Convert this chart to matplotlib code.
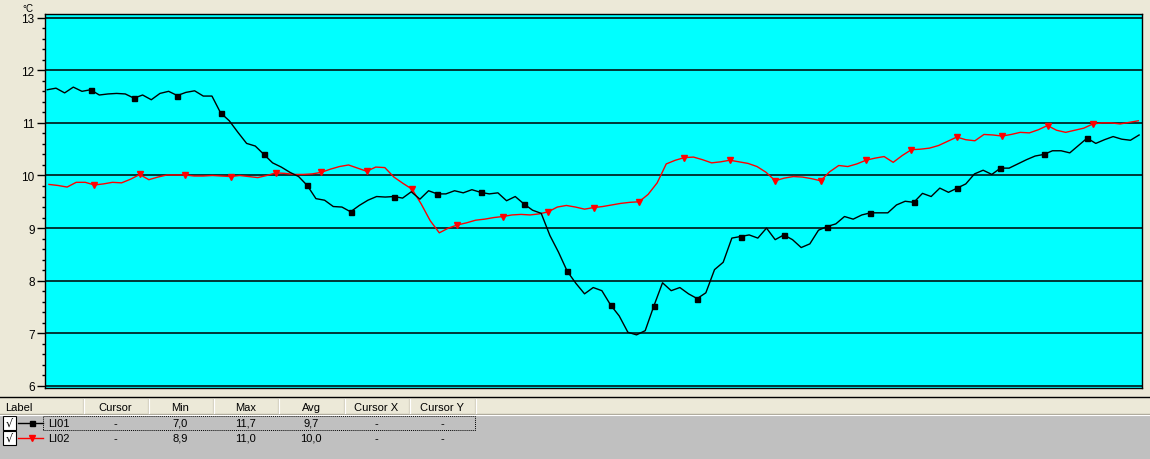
import matplotlib
matplotlib.use("Agg")
import numpy as np
import matplotlib.pyplot as plt
from matplotlib.patches import Rectangle
from matplotlib.lines import Line2D
from matplotlib.ticker import MultipleLocator

# ------------------------------------------------------------
# data (temperatures in degC)
# ------------------------------------------------------------
li01_step_min = 21   # sample interval LI01
li02_step_min = 22   # sample interval LI02
li02_offset_min = 4

li01 = [11.63, 11.66, 11.57, 11.68, 11.60, 11.63, 11.53, 11.55, 11.56, 11.55,
        11.47, 11.53, 11.44, 11.56, 11.60, 11.52, 11.58, 11.61, 11.51, 11.51,
        11.19, 11.04, 10.82, 10.61, 10.56, 10.40, 10.24, 10.16, 10.06, 9.98,
        9.81, 9.56, 9.53, 9.41, 9.40, 9.31, 9.43, 9.53, 9.60, 9.59,
        9.60, 9.57, 9.69, 9.55, 9.71, 9.65, 9.65, 9.71, 9.67, 9.73,
        9.68, 9.65, 9.67, 9.52, 9.60, 9.46, 9.34, 9.28, 8.86, 8.54,
        8.18, 7.95, 7.75, 7.87, 7.81, 7.54, 7.33, 7.02, 6.97, 7.05,
        7.52, 7.96, 7.81, 7.87, 7.75, 7.66, 7.77, 8.21, 8.35, 8.81,
        8.84, 8.87, 8.81, 9.00, 8.78, 8.87, 8.78, 8.63, 8.70, 8.96,
        9.03, 9.08, 9.22, 9.17, 9.25, 9.29, 9.29, 9.29, 9.44, 9.51,
        9.49, 9.66, 9.60, 9.76, 9.68, 9.76, 9.84, 10.03, 10.10, 10.02,
        10.14, 10.14, 10.22, 10.30, 10.37, 10.40, 10.47, 10.47, 10.43, 10.57,
        10.71, 10.61, 10.68, 10.74, 10.69, 10.67, 10.77]

li02 = [9.83, 9.81, 9.78, 9.87, 9.87, 9.82, 9.84, 9.87, 9.86, 9.93,
        10.02, 9.92, 9.97, 10.01, 10.01, 10.01, 9.99, 9.99, 10.00, 9.99,
        9.98, 10.00, 9.98, 9.96, 10.00, 10.05, 10.04, 10.02, 10.02, 10.03,
        10.06, 10.12, 10.17, 10.20, 10.14, 10.08, 10.16, 10.15, 9.97, 9.85,
        9.74, 9.46, 9.14, 8.91, 9.00, 9.06, 9.10, 9.15, 9.17, 9.20,
        9.22, 9.25, 9.26, 9.25, 9.27, 9.31, 9.40, 9.43, 9.40, 9.36,
        9.39, 9.41, 9.44, 9.47, 9.49, 9.50, 9.64, 9.86, 10.22, 10.29,
        10.34, 10.35, 10.30, 10.24, 10.26, 10.29, 10.26, 10.23, 10.17, 10.06,
        9.90, 9.95, 9.98, 9.97, 9.94, 9.90, 10.07, 10.19, 10.17, 10.22,
        10.29, 10.33, 10.36, 10.25, 10.38, 10.49, 10.50, 10.52, 10.57, 10.65,
        10.73, 10.68, 10.66, 10.78, 10.77, 10.75, 10.78, 10.82, 10.81, 10.87,
        10.95, 10.86, 10.82, 10.86, 10.90, 10.98, 11.00, 11.00, 10.98, 11.01,
        11.04]

series_labels = ["LI01", "LI02"]
series_colors = ["black", "red"]
series_markers = ["s", "v"]
table_columns = ["Label", "Cursor", "Min", "Max", "Avg", "Cursor X", "Cursor Y"]
table_min = [7.0, 8.9]
table_max = [11.7, 11.0]
table_avg = [9.7, 10.0]

W, H = 1150, 460
BG = "#ECE9D8"
FONT = "Liberation Sans"


def fx(px):
    return px / W


def fy(py):
    return 1 - py / H


fig = plt.figure(figsize=(W / 100, H / 100), dpi=100, facecolor=BG)

# ------------------------------------------------------------
# chart area
# ------------------------------------------------------------
ax = fig.add_axes([fx(45), fy(389), fx(1142 - 45), (389 - 15) / H])
ax.set_facecolor("#00FFFF")
for s in ax.spines.values():
    s.set_color("black")
    s.set_linewidth(1.0)

for v in range(6, 14):
    ax.axhline(v, color="black", lw=1.1, zorder=1)

t01 = np.arange(len(li01)) * li01_step_min
t02 = np.arange(len(li02)) * li02_step_min + li02_offset_min

# markers every 5th sample, none on the first / last sample
ax.plot(t02, li02, color="red", lw=1.0, marker="v", ms=4.5,
        markevery=list(range(5, len(li02) - 2, 5)), zorder=3)
ax.plot(t01, li01, color="black", lw=1.0, marker="s", ms=3.6,
        markevery=list(range(5, len(li01) - 2, 5)), zorder=4)

ax.set_xlim(-5.6, 2653)
ax.set_ylim(5.96, 13.07)
ax.set_xticks([])
ax.set_yticks(range(6, 14))
ax.yaxis.set_minor_locator(MultipleLocator(0.2))
ax.tick_params(axis="y", which="major", length=6, width=1, pad=1.5,
               labelsize=8.5, direction="out")
ax.tick_params(axis="y", which="minor", length=2.2, width=1, direction="out")
for lab in ax.get_yticklabels():
    lab.set_fontfamily(FONT)

fig.text(fx(22), fy(9), "°C", fontsize=7, family=FONT, va="center", ha="left")

# ------------------------------------------------------------
# legend / statistics table below the chart
# ------------------------------------------------------------
fig.add_artist(Line2D([0, 1], [fy(398), fy(398)], color="black", lw=1.0,
                      transform=fig.transFigure))
fig.add_artist(Rectangle((0, 0), 1, fy(416), transform=fig.transFigure,
                         facecolor="#C0C0C0", edgecolor="none"))
fig.add_artist(Line2D([0, 1], [fy(414.5), fy(414.5)], color="#ACA899", lw=1.0,
                      transform=fig.transFigure))
fig.add_artist(Line2D([0, 1], [fy(415.5), fy(415.5)], color="white", lw=0.8,
                      transform=fig.transFigure))

col_edges = [0, 83, 148, 213, 278, 344, 409, 475]
for xe in col_edges[1:]:
    fig.add_artist(Line2D([fx(xe), fx(xe)], [fy(400), fy(414)],
                          color="#D6D2C2", lw=1.0, transform=fig.transFigure))
    fig.add_artist(Line2D([fx(xe + 1), fx(xe + 1)], [fy(400), fy(414)],
                          color="white", lw=0.8, transform=fig.transFigure))

for k, name in enumerate(table_columns):
    if k == 0:
        fig.text(fx(5), fy(408), name, fontsize=8, family=FONT,
                 ha="left", va="center")
    else:
        xc = (col_edges[k] + col_edges[k + 1]) / 2
        fig.text(fx(xc), fy(408), name, fontsize=8, family=FONT,
                 ha="center", va="center")


def fmt(v):
    return f"{v:.1f}".replace(".", ",")


row_y = [424, 439]
for r, yc in enumerate(row_y):
    # checkbox
    fig.add_artist(Rectangle((fx(3), fy(yc + 7)), fx(13), 14 / H,
                             transform=fig.transFigure, facecolor="white",
                             edgecolor="black", lw=0.8))
    fig.text(fx(9.5), fy(yc), "√", fontsize=8, family="DejaVu Sans",
             ha="center", va="center")
    # line sample
    fig.add_artist(Line2D([fx(18), fx(43)], [fy(yc), fy(yc)],
                          color=series_colors[r], lw=1.0,
                          transform=fig.transFigure))
    fig.add_artist(Line2D([fx(31.5)], [fy(yc)], color=series_colors[r],
                          marker=series_markers[r],
                          ms=3.6 if r == 0 else 4.5, lw=0,
                          transform=fig.transFigure))
    fig.text(fx(48), fy(yc), series_labels[r], fontsize=8, family=FONT,
             ha="left", va="center")
    cells = ["-", fmt(table_min[r]), fmt(table_max[r]), fmt(table_avg[r]), "-", "-"]
    for k, txt in enumerate(cells, start=1):
        xc = (col_edges[k] + col_edges[k + 1]) / 2
        fig.text(fx(xc), fy(yc), txt, fontsize=8, family=FONT,
                 ha="center", va="center")

# focus rectangle around the first row
fig.add_artist(Rectangle((fx(43), fy(431)), fx(475 - 43), 14 / H,
                         transform=fig.transFigure, facecolor="none",
                         edgecolor="black", lw=0.7, linestyle=(0, (1, 1))))

fig.savefig("out.png", dpi=100, facecolor=BG)
